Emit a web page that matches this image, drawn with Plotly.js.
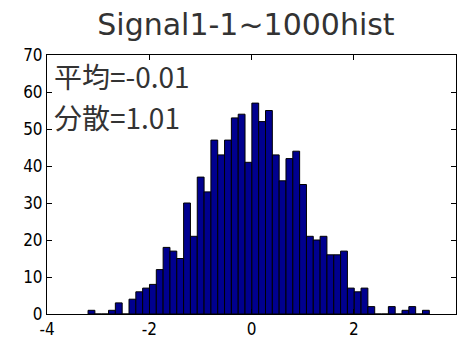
<!DOCTYPE html>
<html>
<head>
<meta charset="utf-8">
<script src="https://cdn.plot.ly/plotly-3.0.1.min.js"></script>
<style>html,body{margin:0;padding:0;background:#fff;}#chart{width:458px;height:343px;}</style>
</head>
<body>
<div id="chart"></div>
<script>
// Histogram of 1000 samples, 50 bins
var binStart = -3.197;
var binWidth = 0.1335;
var counts = [1,0,0,1,3,0,4,6,7,8,12,18,17,15,30,21,37,33,47,43,47,53,54,41,57,52,55,43,36,42,44,35,21,20,21,16,16,17,7,6,7,2,0,0,2,0,1,2,0,1];
var xTicks = [-4,-2,0,2,4];
var yTicks = [0,10,20,30,40,50,60,70];
var titleText = "Signal1-1~1000hist";
var statLines = ["平均=-0.01", "分散=1.01"];

var centers = counts.map(function(_, i){ return binStart + binWidth*(i+0.5); });

var trace = {
  type: 'bar',
  x: centers,
  y: counts,
  width: binWidth,
  marker: {color: '#00008f', line: {color: '#000000', width: 1}},
  hoverinfo: 'x+y'
};

var tickFont = {family: '"DejaVu Sans Condensed", "DejaVu Sans", sans-serif', size: 17, color: '#000'};
var statFont = {family: '"Noto Sans CJK JP", sans-serif', size: 28, color: '#333'};

var layout = {
  width: 458, height: 343,
  margin: {l: 47, r: 2, t: 55, b: 29},
  paper_bgcolor: '#fff', plot_bgcolor: '#fff',
  showlegend: false,
  bargap: 0,
  title: {text: titleText, font: {family: '"DejaVu Sans", sans-serif', size: 30, color: '#333'},
    x: 0.537, xanchor: 'center', xref: 'container', yref: 'container', y: 0.96, yanchor: 'top'},
  xaxis: {range: [-4, 4], tickvals: xTicks, ticktext: xTicks.map(function(v){return v<0 ? '-'+Math.abs(v) : String(v);}),
    ticks: 'inside', ticklen: 5, tickcolor: '#000', showline: true, linecolor: '#000', linewidth: 1, mirror: 'ticks',
    showgrid: false, zeroline: false, tickfont: tickFont, fixedrange: true},
  yaxis: {range: [0, 70], tickvals: yTicks, ticks: 'inside', ticklen: 5, tickcolor: '#000', showline: true, linecolor: '#000', linewidth: 1, mirror: 'ticks',
    showgrid: false, zeroline: false, tickfont: tickFont, fixedrange: true},
  annotations: [
    {text: statLines[0], xref: 'paper', yref: 'paper', x: 0.012, y: 0.919, xanchor: 'left', yanchor: 'middle', showarrow: false, font: statFont},
    {text: statLines[1], xref: 'paper', yref: 'paper', x: 0.012, y: 0.761, xanchor: 'left', yanchor: 'middle', showarrow: false, font: statFont}
  ]
};

Plotly.newPlot('chart', [trace], layout, {displayModeBar: false, staticPlot: true});
</script>
</body>
</html>
